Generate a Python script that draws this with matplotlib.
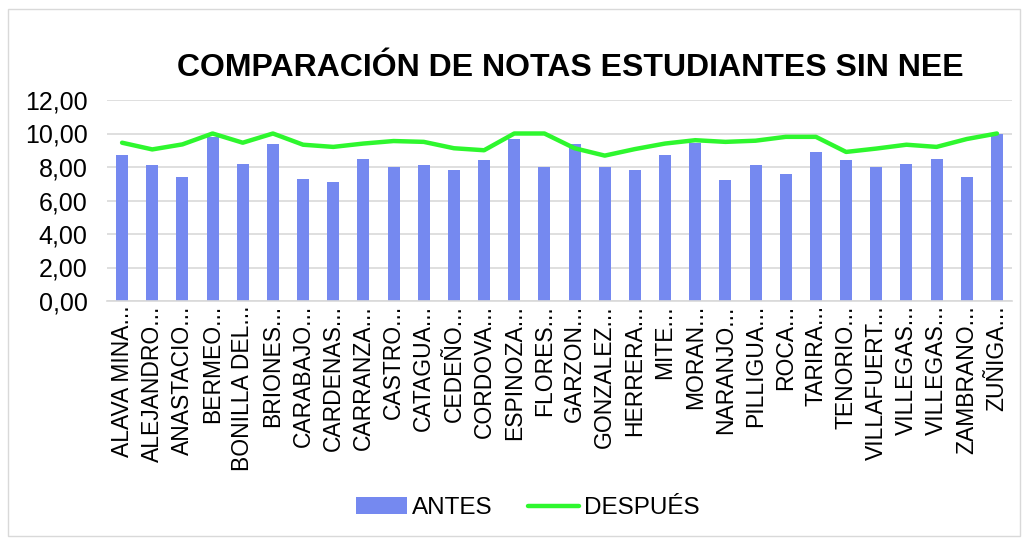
import matplotlib
matplotlib.use("Agg")
import matplotlib.pyplot as plt
from matplotlib.patches import Rectangle
import numpy as np

plt.rcParams['font.family'] = ['Liberation Sans', 'DejaVu Sans']

# data
nombres = ['ALAVA MINA...', 'ALEJANDRO...', 'ANASTACIO...', 'BERMEO...', 'BONILLA DEL...',
           'BRIONES...', 'CARABAJO...', 'CARDENAS...', 'CARRANZA...', 'CASTRO...',
           'CATAGUA...', 'CEDEÑO...', 'CORDOVA...', 'ESPINOZA...', 'FLORES...',
           'GARZON...', 'GONZALEZ...', 'HERRERA...', 'MITE...', 'MORAN...',
           'NARANJO...', 'PILLIGUA...', 'ROCA...', 'TARIRA...', 'TENORIO...',
           'VILLAFUERT...', 'VILLEGAS...', 'VILLEGAS...', 'ZAMBRANO...', 'ZUÑIGA...']
antes = [8.7, 8.1, 7.4, 9.8, 8.2, 9.4, 7.3, 7.1, 8.5, 8.0,
         8.1, 7.8, 8.4, 9.7, 8.0, 9.4, 8.0, 7.8, 8.7, 9.45,
         7.2, 8.1, 7.6, 8.9, 8.4, 8.0, 8.2, 8.5, 7.4, 10.0]
despues = [9.45, 9.05, 9.35, 10.0, 9.45, 10.0, 9.33, 9.2, 9.4, 9.55,
           9.5, 9.12, 9.0, 10.0, 10.0, 9.12, 8.68, 9.07, 9.4, 9.6,
           9.5, 9.57, 9.8, 9.8, 8.9, 9.1, 9.33, 9.2, 9.67, 10.0]
titulo = 'COMPARACIÓN DE NOTAS ESTUDIANTES SIN NEE'

W, H = 1026, 539
fig = plt.figure(figsize=(W / 100, H / 100), dpi=100)
ax = fig.add_axes([107 / W, (H - 301) / H, (1012 - 107) / W, (301 - 100) / H])

x = np.arange(len(nombres))
barras = ax.bar(x, antes, width=0.4, color='#7589F0', label='ANTES', zorder=2)
linea, = ax.plot(x, despues, color='#2EF72E', lw=3.2, solid_capstyle='round', label='DESPUÉS', zorder=3)

ax.set_xlim(-0.5, len(nombres) - 0.5)
ax.set_ylim(0, 12)
ax.set_yticks(np.arange(0, 13, 2))
ax.set_yticklabels([f'{v:.2f}'.replace('.', ',') for v in np.arange(0, 13, 2)], fontsize=18)
ax.set_xticks(x)
ax.set_xticklabels(nombres, rotation=90, fontsize=16.5, va='top', ha='center')
ax.tick_params(axis='y', length=0, pad=14)
ax.tick_params(axis='x', length=0, pad=3)
ax.grid(axis='y', color='#D9D9D9', lw=1.2, zorder=0)
for s in ['top', 'right', 'left']:
    ax.spines[s].set_visible(False)
ax.spines['bottom'].set_color('#D9D9D9')
ax.spines['bottom'].set_linewidth(1.2)

fig.text(570 / W, 1 - 68 / H, titulo, ha='center', va='center', fontsize=23, fontweight='bold')

fig.legend([barras, linea], ['ANTES', 'DESPUÉS'], loc='center',
           bbox_to_anchor=(528 / W, 1 - 508 / H), ncol=2, frameon=False,
           fontsize=17.5, handlelength=2.1, columnspacing=1.45, handletextpad=0.2)

fig.patches.append(Rectangle((8 / W, 3 / H), 1012 / W, 527 / H, transform=fig.transFigure,
                             fill=False, edgecolor='#D9D9D9', lw=1))

fig.savefig('out.png', dpi=100)
